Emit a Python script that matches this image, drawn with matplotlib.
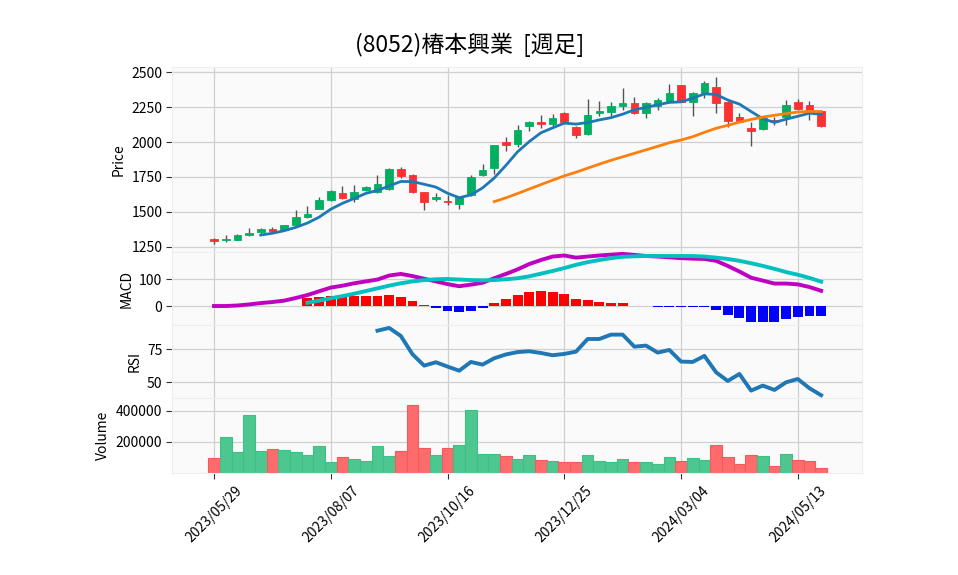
import matplotlib
matplotlib.use('Agg')
import matplotlib.pyplot as plt
import numpy as np

plt.rcParams['font.family'] = ['Noto Sans CJK JP', 'DejaVu Sans']

title = '(8052)椿本興業  [週足]'
tick_pos = [0, 10, 20, 30, 40, 50]
tick_labels = ['2023/05/29', '2023/08/07', '2023/10/16', '2023/12/25', '2024/03/04', '2024/05/13']

opens = [1310, 1298, 1302, 1333, 1355, 1381, 1374, 1405, 1462, 1521,
         1583, 1638, 1593, 1655, 1640, 1667, 1810, 1767, 1643, 1593,
         1579, 1557, 1621, 1762, 1812, 2002, 1983, 2112, 2140, 2129,
         2205, 2110, 2060, 2210, 2217, 2255, 2281, 2205, 2255, 2295,
         2405, 2283, 2350, 2393, 2286, 2179, 2102, 2090, 2155, 2179,
         2286, 2264, 2224]
highs = [1312, 1333, 1345, 1386, 1385, 1393, 1410, 1514, 1545, 1610,
         1655, 1686, 1693, 1688, 1764, 1812, 1821, 1771, 1645, 1636,
         1619, 1610, 1762, 1843, 1981, 2036, 2124, 2152, 2193, 2200,
         2212, 2112, 2307, 2293, 2286, 2383, 2321, 2285, 2317, 2417,
         2410, 2355, 2438, 2464, 2290, 2207, 2140, 2183, 2181, 2303,
         2306, 2293, 2226]
lows = [1274, 1286, 1300, 1330, 1340, 1357, 1370, 1400, 1455, 1518,
        1575, 1595, 1574, 1650, 1636, 1660, 1740, 1638, 1517, 1576,
        1552, 1521, 1615, 1755, 1771, 1936, 1964, 2079, 2098, 2105,
        2140, 2026, 2048, 2183, 2188, 2231, 2200, 2169, 2231, 2290,
        2283, 2183, 2314, 2207, 2105, 2140, 1974, 2085, 2119, 2124,
        2226, 2158, 2110]
closes = [1290, 1308, 1338, 1348, 1381, 1367, 1405, 1467, 1488, 1588,
          1650, 1600, 1645, 1676, 1702, 1810, 1755, 1640, 1569, 1605,
          1569, 1605, 1752, 1802, 1979, 1976, 2088, 2140, 2129, 2171,
          2143, 2048, 2195, 2224, 2260, 2276, 2205, 2281, 2302, 2352,
          2286, 2350, 2424, 2279, 2148, 2145, 2076, 2171, 2140, 2264,
          2238, 2212, 2112]
volumes = [93600, 234000, 138300, 374500, 144700, 157400, 151100, 138300, 112800, 176600,
           68100, 100000, 87200, 74500, 176600, 106400, 144700, 438300, 163800, 112800,
           163800, 183000, 406400, 125500, 125500, 106400, 87200, 119100, 80900, 74500,
           68100, 68100, 119100, 74500, 68100, 87200, 68100, 68100, 55300, 100000,
           74500, 93600, 80900, 183000, 100000, 55300, 119100, 106400, 42600, 125500,
           80900, 74500, 29800]

# moving averages (start at index 4 and 24)
ma5 = [1335, 1348, 1366, 1390, 1421, 1463, 1520, 1562, 1596, 1633,
       1654, 1686, 1718, 1717, 1698, 1678, 1634, 1602, 1622, 1672,
       1743, 1833, 1930, 2003, 2066, 2101, 2135, 2128, 2139, 2158,
       2174, 2199, 2230, 2248, 2266, 2283, 2287, 2313, 2344, 2340,
       2300, 2271, 2218, 2166, 2140, 2163, 2184, 2206, 2198]
ma25 = [1574, 1601, 1632, 1664, 1696, 1727, 1758, 1784, 1813, 1842,
        1869, 1894, 1919, 1944, 1969, 1995, 2014, 2038, 2069, 2098,
        2119, 2142, 2161, 2178, 2191, 2203, 2214, 2219, 2218]

# MACD (from index 0), signal & histogram (from index 8)
macd = [0, 0, 2, 6, 11, 15, 20, 30, 41, 55,
        69, 76, 85, 92, 99, 114, 120, 112, 102, 92,
        82, 74, 80, 87, 104, 120, 137, 157, 172, 185,
        189, 181, 185, 189, 192, 195, 191, 187, 185, 182,
        179, 177, 176, 169, 150, 129, 106, 95, 84, 84,
        81, 71, 57]
signal = [12, 20, 29, 37, 46, 56, 66, 76, 85, 92,
          97, 100, 101, 99, 97, 96, 97, 100, 104, 111,
          121, 131, 142, 154, 164, 172, 179, 184, 186, 187,
          187, 187, 187, 187, 185, 181, 176, 169, 160, 150,
          139, 127, 117, 105, 91]
hist = [29, 34, 38, 38, 38, 39, 37, 41, 33, 19,
        4, -6, -17, -24, -17, -6, 11, 26, 41, 52,
        56, 52, 45, 26, 22, 15, 11, 11, 1, -1,
        -2, -3, -3, -3, -4, -15, -32, -44, -59, -59,
        -59, -48, -40, -36, -36]

# RSI (from index 14)
rsi = [89.1, 91.2, 85.1, 71.2, 62.6, 65.2, 61.9, 58.8, 65.4, 63.4,
       68.2, 71.1, 72.9, 73.5, 72.2, 70.5, 71.5, 73.2, 82.8, 82.8,
       86.1, 86.1, 77.0, 77.8, 72.5, 74.5, 65.7, 65.4, 70.0, 57.6,
       51.0, 56.3, 43.7, 47.5, 44.2, 50.0, 52.5, 45.5, 40.2]

W, H = 958, 575
fig = plt.figure(figsize=(W / 100, H / 100), dpi=100)
fig.patch.set_facecolor('white')

L, R = 172, 862

def add(top, bottom):
    return fig.add_axes([L / W, (H - bottom) / H, (R - L) / W, (bottom - top) / H])

ax_p = add(67, 252)
ax_m = add(252, 325)
ax_r = add(325, 398)
ax_v = add(398, 473)

grid_c = '#d0d0d0'
face_c = '#fafafa'
for ax in (ax_p, ax_m, ax_r, ax_v):
    ax.set_facecolor(face_c)
    ax.set_xlim(-3.6, 55.5)
    ax.set_xticks(tick_pos)
    ax.grid(True, color=grid_c, linewidth=0.9)
    ax.set_axisbelow(True)
    for s in ax.spines.values():
        s.set_color('#eeeeee')
        s.set_linewidth(0.8)
    ax.tick_params(axis='y', labelsize=10, length=4, width=0.8, color='#333333', pad=3)
    ax.tick_params(axis='x', labelbottom=False, length=0)

n = len(closes)
x = np.arange(n)
o = np.array(opens); c = np.array(closes); h = np.array(highs); lo = np.array(lows)
up = c >= o
up_c, dn_c = '#00b060', '#fe3032'
cols = [up_c if u else dn_c for u in up]

# candles
ax_p.vlines(x, lo, h, color='#555555', linewidth=1.0, zorder=2)
bot = np.minimum(o, c)
hgt = np.maximum(np.abs(c - o), 4)
ax_p.bar(x, hgt, bottom=bot, width=0.65, color=cols, edgecolor=cols, linewidth=0.6, zorder=3)
ax_p.plot(np.arange(4, n), ma5, color='#1f77b4', linewidth=2.0, zorder=4)
ax_p.plot(np.arange(24, n), ma25, color='#ff7f0e', linewidth=2.0, zorder=4)
ax_p.set_ylim(1214, 2536)
ax_p.set_yticks([1250, 1500, 1750, 2000, 2250, 2500])
ax_p.set_ylabel('Price', fontsize=10)

# MACD
hx = np.arange(8, n)
hv = np.array(hist)
ax_m.bar(hx, hv, width=0.85, color=['#ff0000' if v >= 0 else '#0000ff' for v in hv], zorder=2)
ax_m.plot(np.arange(0, n), macd, color='#c000c0', linewidth=2.8, zorder=3)
ax_m.plot(np.arange(8, n), signal, color='#00c0c0', linewidth=2.8, zorder=3)
ax_m.set_ylim(-71, 202)
ax_m.set_yticks([0, 100])
ax_m.set_ylabel('MACD', fontsize=10)

# RSI
ax_r.plot(np.arange(14, n), rsi, color='#1f77b4', linewidth=2.8)
ax_r.set_ylim(38.1, 93.4)
ax_r.set_yticks([50, 75])
ax_r.set_ylabel('RSI', fontsize=10)

# Volume
vcols = ['#4dc790' if u else '#fd6b6c' for u in up]
vedge = ['#3fbf85' if u else '#f55a5b' for u in up]
ax_v.bar(x, volumes, width=1.0, color=vcols, edgecolor=vedge, linewidth=0.8, zorder=2)
ax_v.set_ylim(0, 483000)
ax_v.set_yticks([200000, 400000])
ax_v.set_yticklabels(['200000', '400000'])
ax_v.set_ylabel('Volume', fontsize=10)
ax_v.tick_params(axis='x', labelbottom=True, length=4, width=0.8, color='#333333', labelsize=10)
ax_v.set_xticklabels(tick_labels, rotation=45, ha='center')

fig.text(470 / W, 1 - 45 / H, title, ha='center', va='center', fontsize=16.5)

fig.savefig('out.png', dpi=100)
